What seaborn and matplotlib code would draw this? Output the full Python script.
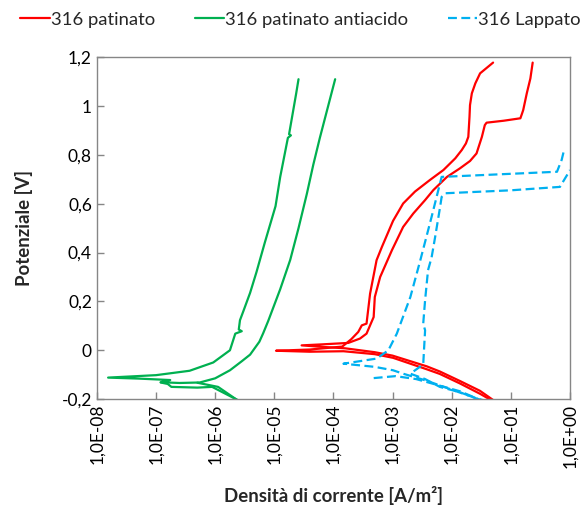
import numpy as np
import pandas as pd
import matplotlib
matplotlib.use("Agg")
import matplotlib.pyplot as plt
from matplotlib.lines import Line2D
import seaborn as sns

# === data (current density in A/m2, potential in V) ===
# 316 patinato: two scan branches, each ending in the cathodic tail
red_a_current = [0.234, 0.214, 0.186, 0.162, 0.155, 0.145, 0.0759, 0.0389, 0.0363, 0.0324,
                 0.0263, 0.0204, 0.0138, 0.00832, 0.0049, 0.00355, 0.00224, 0.00151,
                 0.000977, 0.000617, 0.000501, 0.000479, 0.000363, 0.000282, 0.000178,
                 6.3e-5, 2.9e-5, 6.3e-5, 1.58e-4, 5.0e-4, 1.0e-3, 3.8e-3, 6.3e-3,
                 1.38e-2, 3.0e-2, 5.1e-2]
red_a_potential = [1.178, 1.113, 1.052, 0.984, 0.97, 0.95, 0.94, 0.932, 0.922, 0.874,
                   0.806, 0.775, 0.745, 0.71, 0.656, 0.615, 0.56, 0.505,
                   0.41, 0.30, 0.218, 0.136, 0.068, 0.048, 0.030,
                   0.024, 0.020, 0.014, 0.008, -0.008, -0.022, -0.066, -0.087,
                   -0.126, -0.166, -0.205]
red_b_current = [0.0501, 0.0302, 0.0251, 0.0219, 0.0204, 0.0200, 0.0191, 0.0174, 0.0148,
                 0.0115, 0.00724, 0.00427, 0.0024, 0.00151, 0.00102, 0.00066, 0.000537,
                 0.000417, 0.000363, 0.000302, 0.000263, 0.0002, 0.000141, 3.98e-5,
                 1.07e-5, 3.98e-5, 1.48e-4, 5.0e-4, 1.02e-3, 3.8e-3, 6.3e-3, 1.38e-2,
                 3.0e-2, 4.7e-2]
red_b_potential = [1.178, 1.134, 1.093, 1.052, 1.004, 0.956, 0.874, 0.847, 0.82,
                   0.786, 0.738, 0.697, 0.65, 0.601, 0.53, 0.423, 0.369,
                   0.232, 0.109, 0.102, 0.075, 0.045, 0.015, 0.003,
                   -0.002, -0.006, -0.004, -0.016, -0.031, -0.078, -0.097, -0.136,
                   -0.178, -0.205]

# 316 patinato antiacido
green_a_current = [2.57e-5, 2.34e-5, 1.78e-5, 1.91e-5, 1.70e-5, 1.26e-5, 1.05e-5, 6.9e-6,
                   5.0e-6, 3.9e-6, 3.0e-6, 2.63e-6, 2.51e-6, 2.82e-6, 2.19e-6, 1.78e-6,
                   9.3e-7, 3.7e-7, 1.0e-7, 1.55e-8, 5.0e-8, 1.74e-7, 1.2e-7, 2.5e-7,
                   5.5e-7, 1.0e-6, 1.78e-6, 2.82e-6, 3.9e-6, 5.6e-6, 6.5e-6, 7.9e-6,
                   1.26e-5, 1.86e-5, 2.57e-5, 3.55e-5, 4.57e-5, 5.9e-5, 1.07e-4]
green_a_potential = [1.11, 1.05, 0.885, 0.880, 0.870, 0.71, 0.59, 0.44,
                     0.32, 0.235, 0.16, 0.123, 0.085, 0.078, 0.068, 0.0,
                     -0.05, -0.084, -0.102, -0.112, -0.116, -0.122, -0.131, -0.134,
                     -0.132, -0.115, -0.082, -0.045, -0.018, 0.035, 0.07, 0.12,
                     0.25, 0.37, 0.50, 0.64, 0.76, 0.87, 1.11]
green_b_current = [1.2e-7, 1.58e-7, 1.82e-7, 5.0e-7, 8.9e-7, 2.45e-6]
green_b_potential = [-0.132, -0.138, -0.150, -0.153, -0.150, -0.205]
green_c_current = [5.0e-7, 1.12e-6, 2.4e-6]
green_c_potential = [-0.133, -0.150, -0.205]

# 316 Lappato
blue_a_current = [3.16e-2, 1.38e-2, 6.3e-3, 3.55e-3, 2.0e-3, 3.3e-3, 3.4e-3, 3.55e-3, 3.3e-3,
                  3.55e-3, 3.98e-3, 4.57e-3, 5.25e-3, 6.3e-3, 6.76e-3, 7.9e-3, 0.1, 0.676,
                  0.89, 1.0]
blue_a_potential = [-0.205, -0.172, -0.150, -0.118, -0.096, -0.058, 0.0, 0.082, 0.109,
                    0.205, 0.328, 0.38, 0.464, 0.58, 0.628, 0.643, 0.655, 0.669,
                    0.717, 0.738]
blue_b_current = [0.776, 0.724, 0.603, 6.76e-3, 4.57e-3, 2.95e-3, 2.0e-3, 1.18e-3, 8.5e-4,
                  5.4e-4, 1.48e-4, 5.0e-4, 1.02e-3, 1.51e-3, 3.8e-3, 1.07e-2, 2.63e-2,
                  3.47e-2]
blue_b_potential = [0.81, 0.78, 0.731, 0.71, 0.546, 0.369, 0.218, 0.068, 0.0,
                    -0.034, -0.055, -0.068, -0.082, -0.096, -0.125, -0.164, -0.197,
                    -0.205]
blue_c_current = [4.8e-4, 1.12e-3, 2.5e-3, 6.3e-3, 1.38e-2, 2.82e-2]
blue_c_potential = [-0.114, -0.106, -0.118, -0.145, -0.168, -0.200]

series_names = ["316 patinato", "316 patinato antiacido", "316 Lappato"]
colors = {"316 patinato": "#FF0000", "316 patinato antiacido": "#00B050", "316 Lappato": "#00B0F0"}
blue_dash = (4.0, 2.0)

segments = [
    ("316 patinato", "r1", red_a_current, red_a_potential),
    ("316 patinato", "r2", red_b_current, red_b_potential),
    ("316 patinato antiacido", "g1", green_a_current, green_a_potential),
    ("316 patinato antiacido", "g2", green_b_current, green_b_potential),
    ("316 patinato antiacido", "g3", green_c_current, green_c_potential),
    ("316 Lappato", "b1", blue_a_current, blue_a_potential),
    ("316 Lappato", "b2", blue_b_current, blue_b_potential),
    ("316 Lappato", "b3", blue_c_current, blue_c_potential),
]
frames = []
for name, seg, cur, pot in segments:
    frames.append(pd.DataFrame({"series": name, "segment": seg, "current": cur, "potential": pot}))
df = pd.concat(frames, ignore_index=True)

# === style ===
sns.set_style("ticks")
plt.rcParams["font.family"] = ["Lato", "DejaVu Sans"]

fig = plt.figure(figsize=(5.87, 5.11), dpi=100)
ax = fig.add_axes([0.165, 0.219, 0.806, 0.669])

dash_map = {"316 patinato": "", "316 patinato antiacido": "", "316 Lappato": blue_dash}
sns.lineplot(
    data=df, x="current", y="potential", hue="series", style="series",
    units="segment", estimator=None, sort=False,
    palette=colors, dashes=dash_map, linewidth=1.6, legend=False, ax=ax,
)

ax.set_xscale("log")
ax.set_xlim(1e-8, 1.0)
ax.set_ylim(-0.2, 1.2)

xt = [10.0 ** k for k in range(-8, 1)]
ax.set_xticks(xt)
ax.set_xticklabels([f"1,0E{k:+03d}" for k in range(-8, 1)], rotation=90)
ax.xaxis.set_minor_locator(matplotlib.ticker.NullLocator())
yt = np.round(np.arange(-0.2, 1.21, 0.2), 1)
ax.set_yticks(yt)
ax.set_yticklabels([f"{v:g}".replace(".", ",") for v in yt])

ax.tick_params(axis="both", direction="in", length=5, width=1, color="#868686",
               labelsize=12.5, labelcolor="black")
for sp in ax.spines.values():
    sp.set_color("#868686")
    sp.set_linewidth(1)
    sp.set_visible(True)

ax.set_xlabel("Densità di corrente [A/m²]", fontsize=13.4, fontweight="bold")
ax.set_ylabel("Potenziale [V]", fontsize=13.4, fontweight="bold")
ax.xaxis.set_label_coords(0.5, -0.255)
ax.yaxis.set_label_coords(-0.135, 0.5)

handles = [
    Line2D([], [], color=colors["316 patinato"], lw=1.6),
    Line2D([], [], color=colors["316 patinato antiacido"], lw=1.6),
    Line2D([], [], color=colors["316 Lappato"], lw=1.6, dashes=blue_dash),
]
fig.legend(handles, series_names, loc="upper center", bbox_to_anchor=(0.512, 1.01), ncol=3,
           frameon=False, fontsize=13.3, handlelength=1.6, handletextpad=0.05,
           columnspacing=2.15)

fig.savefig("out.png", dpi=100)
